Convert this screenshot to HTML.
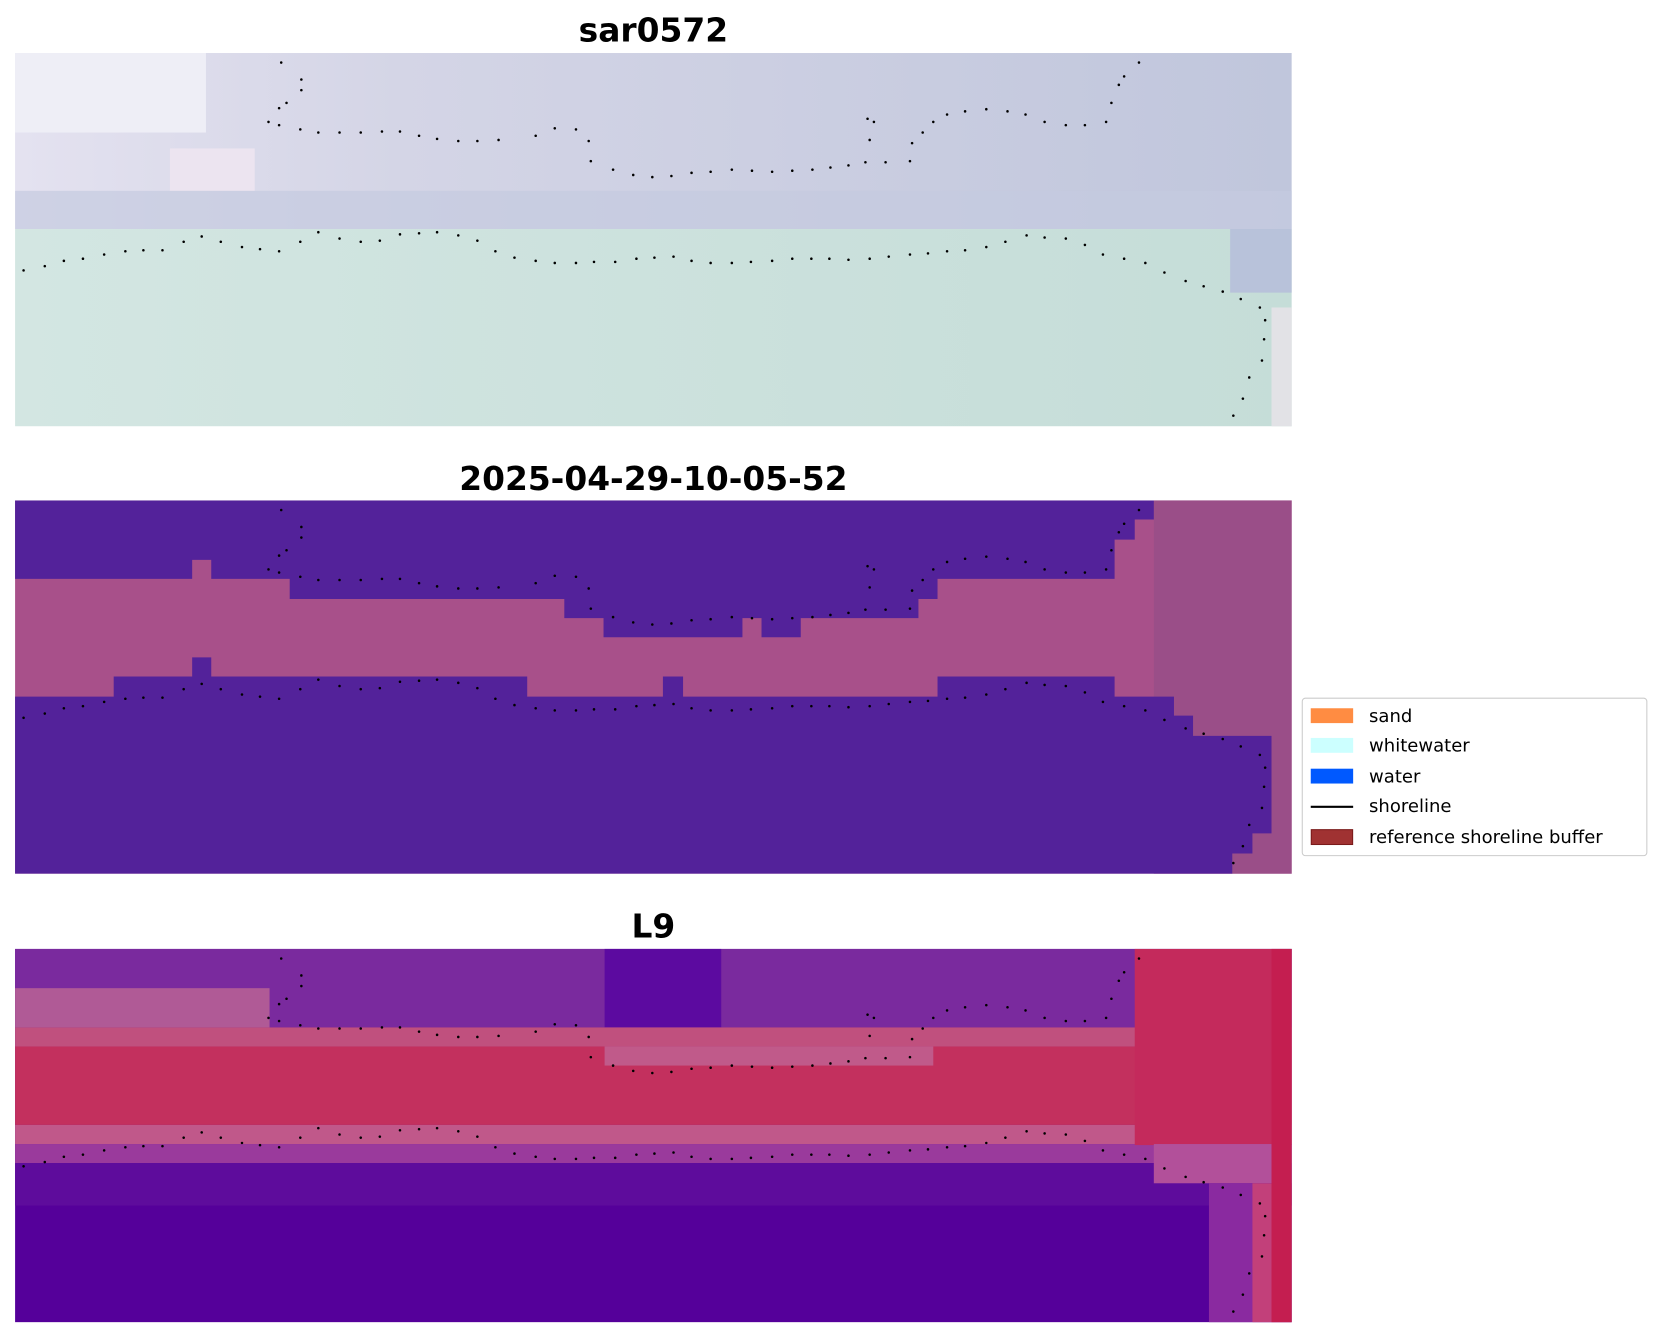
<!DOCTYPE html>
<html><head><meta charset="utf-8"><style>html,body{margin:0;padding:0;background:#fff}svg{display:block}</style></head>
<body>
<svg width="1663" height="1337" viewBox="0 0 1568 1261" xmlns="http://www.w3.org/2000/svg" font-family="'DejaVu Sans','Liberation Sans',sans-serif">
<defs>
<marker id="d" viewBox="0 0 4 4" refX="2" refY="2" markerWidth="4" markerHeight="4" markerUnits="userSpaceOnUse"><circle cx="2" cy="2" r="1.2" fill="#000"/></marker>
<g id="shore" fill="none" stroke="none" marker-start="url(#d)" marker-mid="url(#d)" marker-end="url(#d)">
<polyline points="265,59 284,75 284,85 270,97 263,102 253,115 263,118 283,122 300,125 320,125 340,125 360,124 377,124 395,128 412,131 432,133 450,133 470,132 505,128 523,121 543,122 555,133 557,152 578,160 597,165 615,167 633,166 652,163 670,162 690,160 709,161 728,162 747,161 766,160 783,158 800,156 816,153 835,153 858,152 860,135 870,125 880,115 893,108 910,105 930,103 950,105 967,108 985,115 1005,118 1023,118 1043,115 1048,97 1055,80 1060,72 1074,59"/>
<polyline points="818,112 824,115 820,132"/>
<polyline points="22,255 42,251 60,246 78,244 98,240 118,237 135,236 153,236 173,228 190,223 208,228 228,233 245,235 263,237 283,228 300,219 320,225 340,228 358,227 377,221 395,220 412,219 432,222 450,227 467,237 485,243 505,246 523,248 543,248 560,247 580,247 600,244 617,243 635,242 652,246 670,248 690,248 708,247 728,246 747,244 765,244 782,244 800,245 820,244 838,242 858,240 875,239 893,237 910,236 930,233 948,228 968,222 985,224 1005,225 1023,231 1040,240 1060,244 1080,248 1098,257 1118,265 1135,270 1153,275 1170,282 1188,290 1193,302 1192,320 1190,340 1178,356 1172,376 1163,392"/>
</g>
<linearGradient id="g1" x1="0" y1="0" x2="1" y2="0"><stop offset="0" stop-color="#e4e2f0"/><stop offset="0.3" stop-color="#d4d5e6"/><stop offset="1" stop-color="#c0c6dc"/></linearGradient>
<linearGradient id="g1b" x1="0" y1="0" x2="1" y2="0"><stop offset="0" stop-color="#d3e6e2"/><stop offset="1" stop-color="#c5ddd8"/></linearGradient>
</defs>

<!-- Panel 1 -->
<text x="616" y="39" font-size="31" font-weight="bold" text-anchor="middle">sar0572</text>
<rect x="14" y="50" width="1204" height="166" fill="url(#g1)"/>
<rect x="14" y="50" width="180" height="75" fill="#eeeef6"/>
<rect x="160" y="140" width="80" height="40" fill="#ece4f0"/>
<rect x="14" y="180" width="1204" height="36" fill="#c4cadf" opacity="0.7"/>
<rect x="14" y="216" width="1204" height="186" fill="url(#g1b)"/>
<rect x="1160" y="216" width="58" height="60" fill="#b8c2da"/>
<rect x="1199" y="290" width="19" height="112" fill="#e2e2e6"/>
<use href="#shore"/>

<!-- Panel 2 -->
<text x="616" y="462" font-size="31" font-weight="bold" text-anchor="middle">2025-04-29-10-05-52</text>
<rect x="14" y="472" width="1204" height="352" fill="#a8508a"/>
<rect x="1088" y="472" width="130" height="352" fill="#9a4e88"/>
<path fill="#53229a" d="M14,472 H1088 V490 H1070 V509 H1051 V546 H884 V565 H866 V583 H755 V601 H718 V583 H700 V601 H569 V583 H532 V565 H273 V546 H199 V528 H181 V546 H14 Z"/>
<path fill="#53229a" d="M14,824 V657 H107 V638 H181 V620 H199 V638 H497 V657 H625 V638 H644 V657 H884 V638 H1051 V657 H1107 V675 H1125 V694 H1162 V694 H1199 V786 H1181 V805 H1162 V824 Z"/>
<use href="#shore" y="422"/>

<!-- Panel 3 -->
<text x="616" y="884" font-size="31" font-weight="bold" text-anchor="middle">L9</text>
<rect x="14" y="895" width="1204" height="352" fill="#55009a"/>
<rect x="14" y="895" width="1204" height="74" fill="#7a2a9e"/>
<rect x="14" y="932" width="240" height="37" fill="#b05a96"/>
<rect x="570" y="895" width="110" height="110" fill="#5c0aa0"/>
<rect x="14" y="969" width="1204" height="18" fill="#c0507e"/>
<rect x="14" y="987" width="1204" height="74" fill="#c3305e"/>
<rect x="570" y="987" width="310" height="18" fill="#c05a8a"/>
<rect x="14" y="1061" width="1204" height="18" fill="#c0588a"/>
<rect x="14" y="1079" width="1204" height="18" fill="#9a3a9c"/>
<rect x="14" y="1097" width="1204" height="40" fill="#5e0c9c"/>
<rect x="1070" y="895" width="148" height="185" fill="#c42a5c"/>
<rect x="1088" y="1079" width="130" height="37" fill="#b2509a"/>
<rect x="1140" y="1116" width="78" height="131" fill="#8a2aa0"/>
<rect x="1181" y="1116" width="37" height="131" fill="#c2407a"/>
<rect x="1199" y="895" width="19" height="352" fill="#c41e50"/>
<use href="#shore" y="845"/>

<!-- Legend -->
<rect x="1228" y="658.5" width="325" height="148.5" rx="3" fill="#fff" stroke="#ccc" stroke-width="1"/>
<rect x="1236" y="668" width="40" height="14" fill="#ff8c42"/>
<rect x="1236" y="696" width="40" height="14" fill="#ccffff"/>
<rect x="1236" y="725" width="40" height="14" fill="#0059ff"/>
<line x1="1236" y1="761" x2="1276" y2="761" stroke="#000" stroke-width="2"/>
<rect x="1236.5" y="782.5" width="39" height="14" fill="#a03232" stroke="#7a1a1a"/>
<g font-size="17" fill="#000">
<text x="1291" y="681">sand</text>
<text x="1291" y="709">whitewater</text>
<text x="1291" y="738">water</text>
<text x="1291" y="766">shoreline</text>
<text x="1291" y="795">reference shoreline buffer</text>
</g>
</svg>
</body></html>
